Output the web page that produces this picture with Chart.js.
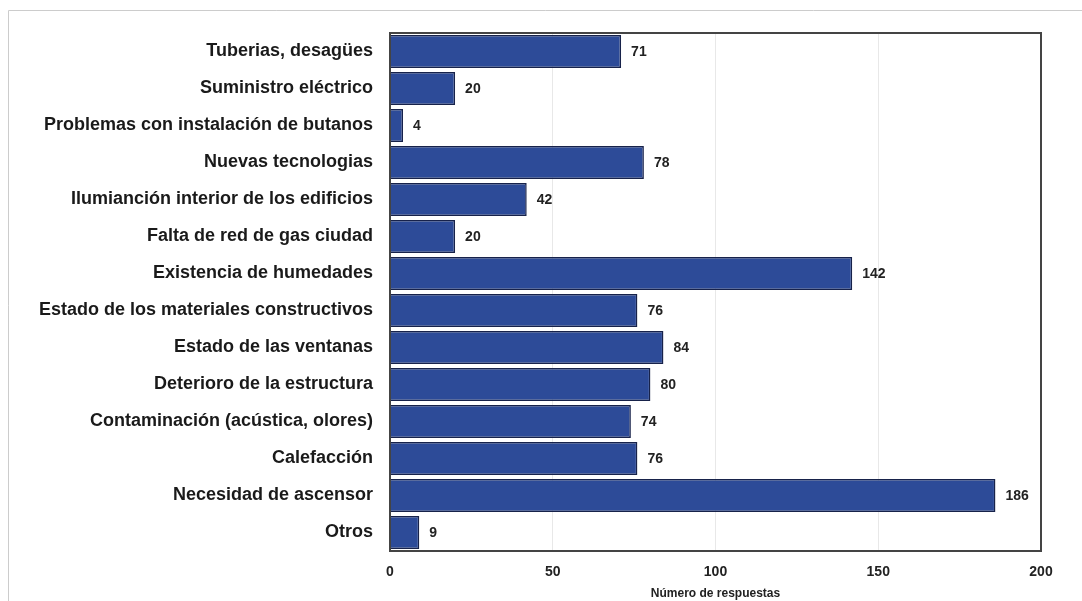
<!DOCTYPE html>
<html>
<head>
<meta charset="utf-8">
<script src="https://cdn.jsdelivr.net/npm/chart.js@4"></script>
<style>
  html, body { margin: 0; padding: 0; background: #fff; }
  #wrap { width: 1082px; height: 601px; }
</style>
</head>
<body>
<div id="wrap"><canvas id="myChart" width="1082" height="601"></canvas></div>
<script>
// horizontal bar chart

const categories = [
  'Tuberias, desagües',
  'Suministro eléctrico',
  'Problemas con instalación de butanos',
  'Nuevas tecnologias',
  'Ilumianción interior de los edificios',
  'Falta de red de gas ciudad',
  'Existencia de humedades',
  'Estado de los materiales constructivos',
  'Estado de las ventanas',
  'Deterioro de la estructura',
  'Contaminación (acústica, olores)',
  'Calefacción',
  'Necesidad de ascensor',
  'Otros'
];

const responses = [71, 20, 4, 78, 42, 20, 142, 76, 84, 80, 74, 76, 186, 9];

const xTicks = [0, 50, 100, 150, 200];

const FONT = '"Liberation Sans", Arial, sans-serif';

// frame round the whole figure + box round the plot + value labels
const framePlugin = {
  id: 'frame',
  beforeDraw(chart) {
    const ctx = chart.ctx;
    ctx.save();
    ctx.strokeStyle = '#cccccc';
    ctx.lineWidth = 1;
    ctx.beginPath();
    ctx.moveTo(8.5, 601);
    ctx.lineTo(8.5, 10.5);
    ctx.lineTo(1082, 10.5);
    ctx.stroke();
    ctx.restore();
  },
  afterDatasetsDraw(chart) {
    const ctx = chart.ctx;
    const a = chart.chartArea;
    ctx.save();
    ctx.strokeStyle = '#444';
    ctx.lineWidth = 2;
    ctx.strokeRect(a.left, a.top, a.right - a.left, a.bottom - a.top);

    ctx.fillStyle = '#222';
    ctx.font = 'bold 14px ' + FONT;
    ctx.textBaseline = 'middle';
    const meta = chart.getDatasetMeta(0);
    meta.data.forEach((bar, i) => {
      ctx.fillText(String(responses[i]), bar.x + 10, bar.y + 1);
    });
    ctx.restore();
  }
};

const data = {
  labels: categories,
  datasets: [{
    label: 'Número de respuestas',
    data: responses,
    backgroundColor: '#2d4b98',
    borderColor: '#17224a',
    borderWidth: 1.5,
    barPercentage: 0.89,
    categoryPercentage: 1.0
  }]
};

const config = {
  type: 'bar',
  data: data,
  plugins: [framePlugin],
  options: {
    indexAxis: 'y',
    responsive: false,
    animation: false,
    layout: { padding: { top: 33, right: 41, left: 0, bottom: 0 } },
    plugins: {
      legend: { display: false },
      tooltip: { enabled: false }
    },
    scales: {
      x: {
        min: 0,
        max: 200,
        afterBuildTicks(scale) {
          scale.ticks = xTicks.map(v => ({ value: v }));
        },
        afterFit(scale) { scale.height = 50; },
        grid: { color: '#e8e8e8', drawTicks: false },
        border: { display: false },
        ticks: {
          color: '#222',
          padding: 13,
          font: { family: FONT, size: 14, weight: 'bold' }
        },
        title: {
          display: true,
          text: 'Número de respuestas',
          color: '#222',
          padding: { top: 2, bottom: 0 },
          font: { family: FONT, size: 12, weight: 'bold' }
        }
      },
      y: {
        afterFit(scale) { scale.width = 390; },
        grid: { display: false, drawTicks: false },
        border: { display: false },
        ticks: {
          color: '#1a1a1a',
          padding: 17,
          autoSkip: false,
          font: { family: FONT, size: 18, weight: 'bold' }
        }
      }
    }
  }
};

const myChart = new Chart(document.getElementById('myChart'), config);
</script>
</body>
</html>
